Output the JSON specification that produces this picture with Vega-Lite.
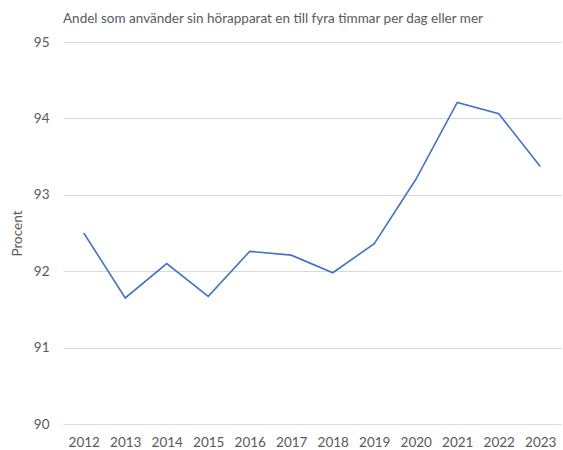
{
  "$schema": "https://vega.github.io/schema/vega-lite/v6.json",
  "width": 563,
  "height": 450,
  "autosize": {"type": "fit", "contains": "padding"},
  "padding": {"left": 10, "top": 11, "right": 2, "bottom": 1},
  "title": {"text": "Andel som använder sin hörapparat en till fyra timmar per dag eller mer", "anchor": "start", "frame": "group", "font": "Lato", "fontSize": 13.5, "fontWeight": "normal", "color": "#595959", "offset": 10},
  "config": {"view": {"stroke": null}, "font": "Lato"},
  "data": {"values": [
    {"year": "2012", "value": 92.50},
    {"year": "2013", "value": 91.65},
    {"year": "2014", "value": 92.10},
    {"year": "2015", "value": 91.67},
    {"year": "2016", "value": 92.26},
    {"year": "2017", "value": 92.21},
    {"year": "2018", "value": 91.98},
    {"year": "2019", "value": 92.36},
    {"year": "2020", "value": 93.20},
    {"year": "2021", "value": 94.21},
    {"year": "2022", "value": 94.06},
    {"year": "2023", "value": 93.37}
  ]},
  "mark": {"type": "line", "color": "#4472C4", "strokeWidth": 1.6},
  "encoding": {
    "x": {"field": "year", "type": "ordinal", "scale": {"type": "point", "padding": 0.5},
      "axis": {"title": null, "labelAngle": 0, "ticks": false, "domain": false, "labelFontSize": 13.5, "labelColor": "#595959", "labelPadding": 11}},
    "y": {"field": "value", "type": "quantitative", "scale": {"domain": [90, 95], "zero": false},
      "axis": {"title": "Procent", "titleFontSize": 13.5, "titleFontWeight": "normal", "titleColor": "#595959", "titlePadding": 9, "values": [90, 91, 92, 93, 94, 95], "ticks": false, "domain": false, "labelFontSize": 13.5, "labelColor": "#595959", "labelPadding": 14, "gridColor": "#d9d9d9", "gridWidth": 1}}
  }
}
